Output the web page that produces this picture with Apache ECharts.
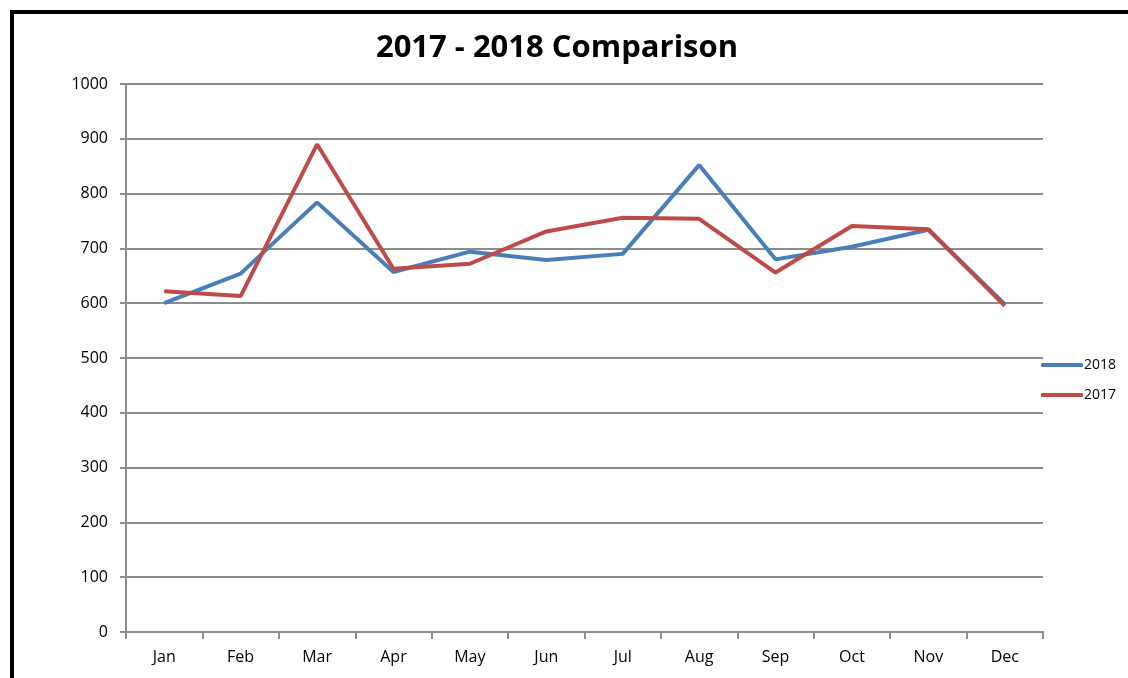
<!DOCTYPE html>
<html>
<head>
<meta charset="utf-8">
<script src="https://cdn.jsdelivr.net/npm/echarts@6/dist/echarts.min.js"></script>
<style>
html,body{margin:0;padding:0;background:#fff;}
#chart{width:1128px;height:678px;}
</style>
</head>
<body>
<div id="chart"></div>
<script>
const categories = ['Jan','Feb','Mar','Apr','May','Jun','Jul','Aug','Sep','Oct','Nov','Dec'];
const values2018 = [600, 654, 784, 657, 694, 679, 690, 852, 680, 703, 734, 598];
const values2017 = [622, 613, 890, 663, 672, 731, 756, 754, 656, 741, 735, 595];
const yTicks = [0, 100, 200, 300, 400, 500, 600, 700, 800, 900, 1000];

const font = 'Open Sans, DejaVu Sans, sans-serif';
const chart = echarts.init(document.getElementById('chart'), null, {renderer: 'canvas'});
chart.setOption({
  backgroundColor: '#fff',
  animation: false,
  title: {
    text: '2017 - 2018 Comparison',
    left: 552, top: 28, textAlign: 'center',
    textStyle: {fontFamily: font, fontSize: 31, fontWeight: 'bold', color: '#000'}
  },
  graphic: [{
    type: 'rect', silent: true, z: 100,
    shape: {x: 12, y: 12, width: 1300, height: 900},
    style: {fill: 'none', stroke: '#000', lineWidth: 4}
  }],
  legend: {
    orient: 'vertical', left: 1036, top: 353, itemGap: 16,
    itemWidth: 42, itemHeight: 4, icon: 'roundRect',
    textStyle: {fontFamily: font, fontSize: 14, color: '#000', padding: [0,0,0,-4]},
    data: ['2018', '2017']
  },
  grid: {left: 126, right: 85, top: 84, bottom: 46},
  xAxis: {
    type: 'category', data: categories, boundaryGap: true,
    axisLine: {lineStyle: {color: '#8c8c8c', width: 2}},
    axisTick: {show: true, length: 7, lineStyle: {color: '#8c8c8c', width: 2}},
    axisLabel: {fontFamily: font, fontSize: 16, color: '#000', margin: 17}
  },
  yAxis: {
    type: 'value', min: yTicks[0], max: yTicks[yTicks.length - 1], interval: 100,
    axisLine: {show: true, lineStyle: {color: '#8c8c8c', width: 2}},
    axisTick: {show: true, length: 6, lineStyle: {color: '#8c8c8c', width: 2}},
    axisLabel: {fontFamily: font, fontSize: 16, color: '#000', margin: 18,
                formatter: v => String(v)},
    splitLine: {lineStyle: {color: '#8c8c8c', width: 2}}
  },
  series: [
    {name: '2018', type: 'line', data: values2018, showSymbol: false, symbol: 'none',
     lineStyle: {color: '#4a7ebb', width: 4}, itemStyle: {color: '#4a7ebb'}, z: 3},
    {name: '2017', type: 'line', data: values2017, showSymbol: false, symbol: 'none',
     lineStyle: {color: '#be4b48', width: 4}, itemStyle: {color: '#be4b48'}, z: 4}
  ]
});
</script>
</body>
</html>
